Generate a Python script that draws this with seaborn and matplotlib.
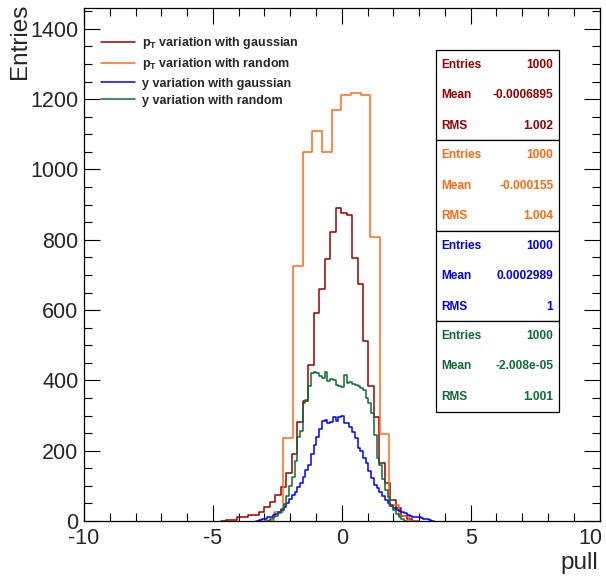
import numpy as np
import pandas as pd
import matplotlib
matplotlib.use("Agg")
import matplotlib.pyplot as plt
import seaborn as sns
from matplotlib.lines import Line2D
from matplotlib.patches import Rectangle
from matplotlib.ticker import MultipleLocator
from matplotlib.transforms import ScaledTranslation

# ---------------- data ----------------
series_names = ["p$_{T}$ variation with gaussian",
                "p$_{T}$ variation with random",
                "y variation with gaussian",
                "y variation with random"]
series_colors = ["#990000", "#ff6a13", "#0000ff", "#0f6b35"]

# bin layout: first edge, bin width (first and last bins are empty)
red_start, red_width = -4.7035, 0.2125
red_counts = [0, 3, 3, 12, 12, 17, 17, 26, 41, 55, 74, 98, 136, 191, 283, 340,
              444, 592, 660, 744, 822, 891, 877, 870, 747, 675, 511, 383, 297,
              164, 107, 60, 38, 15, 5, 0]

orange_start, orange_width = -3.017, 0.3743
orange_counts = [0, 25, 236, 726, 1051, 1110, 1051, 1170, 1212, 1217, 1212,
                 807, 247, 46, 15, 0]

blue_start, blue_width = -3.322, 0.10625
blue_counts = [0, 3, 5, 7, 10, 12, 16, 20, 25, 31, 41, 50, 62, 74, 83, 98, 109,
               126, 145, 160, 190, 215, 240, 262, 285, 288, 280, 283, 295, 285,
               297, 299, 280, 278, 266, 254, 236, 207, 200, 180, 165, 142, 122,
               103, 93, 83, 72, 60, 52, 44, 38, 32, 29, 25, 22, 18, 15, 12, 11,
               10, 8, 7, 5, 3, 0]

green_start, green_width = -2.897, 0.10625
green_counts = [0, 6, 12, 15, 22, 35, 48, 70, 100, 126, 170, 240, 255, 335, 345,
                383, 420, 425, 421, 412, 408, 424, 398, 405, 402, 388, 383, 380,
                416, 392, 395, 390, 386, 384, 378, 372, 350, 335, 307, 245, 180,
                160, 120, 88, 69, 45, 32, 20, 12, 5, 0]

x_ticks = [-10, -5, 0, 5, 10]

stat_entries = ["1000", "1000", "1000", "1000"]
stat_means = ["-0.0006895", "-0.000155", "0.0002989", "-2.008e-05"]
stat_rms = ["1.002", "1.004", "1", "1.001"]

x_label = "pull"
y_label = "Entries"

# ---------------- style ----------------
sns.set_style("ticks")
plt.rcParams["font.family"] = ["Liberation Sans", "DejaVu Sans"]
plt.rcParams["axes.unicode_minus"] = False
plt.rcParams["mathtext.fontset"] = "custom"
plt.rcParams["mathtext.rm"] = "Liberation Sans:bold"
plt.rcParams["mathtext.bf"] = "Liberation Sans:bold"
plt.rcParams["mathtext.it"] = "Liberation Sans:bold"
plt.rcParams["mathtext.default"] = "bf"

W, H = 606, 576
fig = plt.figure(figsize=(W / 100, H / 100), dpi=100)
ax = fig.add_axes([84 / W, 1 - 521 / H, (599.6 - 84) / W, (521 - 7.8) / H])


def build(start, width, counts):
    n = len(counts)
    edges = start + width * np.arange(n + 1)
    centers = edges[:-1] + width / 2
    return pd.DataFrame({"x": centers, "w": counts}), [float(e) for e in edges]


hists = [(red_start, red_width, red_counts),
         (orange_start, orange_width, orange_counts),
         (blue_start, blue_width, blue_counts),
         (green_start, green_width, green_counts)]

for (start, width, counts), col, name in zip(hists, series_colors, series_names):
    df, edges = build(start, width, counts)
    sns.histplot(data=df, x="x", weights="w", bins=edges, element="step",
                 fill=False, color=col, linewidth=1.1, ax=ax)

ax.set_xlim(-10, 10)
ax.set_ylim(0, 1460)
ax.set_xlabel("")
ax.set_ylabel("")
ax.set_xticks(x_ticks, labels=[str(t) for t in x_ticks])
ax.xaxis.set_minor_locator(MultipleLocator(1))
ax.yaxis.set_major_locator(MultipleLocator(200))
ax.yaxis.set_minor_locator(MultipleLocator(50))
ax.tick_params(which="both", direction="in", top=True, right=True,
               color="black", width=0.8)
ax.tick_params(which="major", length=11.5, labelsize=15.5, pad=4)
ax.tick_params(which="minor", length=5.8)
ax.tick_params(axis="x", which="major", pad=5)
for s in ax.spines.values():
    s.set_visible(True)
    s.set_linewidth(0.9)
    s.set_color("black")

# pull the last x tick label slightly inside, as in the reference
for lab in ax.get_xticklabels():
    if lab.get_text() == str(x_ticks[-1]):
        lab.set_transform(lab.get_transform() +
                          ScaledTranslation(-9 / 100, 0, fig.dpi_scale_trans))

fig.text(20 / W, 1 - 4 / H, y_label, rotation=90, ha="center", va="top",
         fontsize=17.5)
fig.text(598 / W, 1 - 574 / H, x_label, ha="right", va="bottom", fontsize=17.5)

# legend
handles = [Line2D([0], [0], color=c, lw=1.1) for c in series_colors]
leg = ax.legend(handles, series_names, loc="upper left",
                bbox_to_anchor=(101 / W, 1 - 35 / H),
                bbox_transform=fig.transFigure, frameon=False,
                prop={"weight": "bold", "size": 9.0}, handlelength=2.7,
                handletextpad=0.6, labelspacing=0.42, borderpad=0.0,
                borderaxespad=0.0)

# statistics boxes
box_left, box_right = 436, 559.3
box_tops = [49.7, 140, 230.7, 320.7]
box_bottoms = [140, 230.7, 320.7, 411.7]
for i, col in enumerate(series_colors):
    top, bot = box_tops[i], box_bottoms[i]
    fig.patches.append(Rectangle((box_left / W, 1 - bot / H),
                                 (box_right - box_left) / W, (bot - top) / H,
                                 transform=fig.transFigure, facecolor="white",
                                 edgecolor="black", linewidth=0.9, zorder=5))
    rows = [("Entries", stat_entries[i]), ("Mean", stat_means[i]),
            ("RMS", stat_rms[i])]
    for j, (k, v) in enumerate(rows):
        yc = top + 15.3 + j * 30.3
        fig.text(441.7 / W, 1 - yc / H, k, ha="left", va="center",
                 fontsize=8.6, fontweight="bold", color=col, zorder=6)
        fig.text(553.3 / W, 1 - yc / H, v, ha="right", va="center",
                 fontsize=8.6, fontweight="bold", color=col, zorder=6)

fig.savefig("out.png", dpi=100)
